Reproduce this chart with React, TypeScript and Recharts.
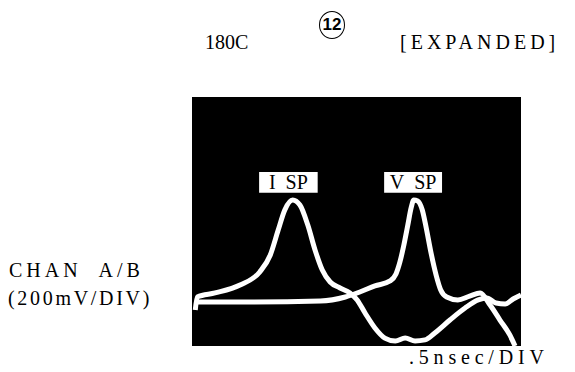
import React from "react";
import { LineChart, Line, XAxis, YAxis, ReferenceArea } from "recharts";

// scope trace, 0.5 ns/div horizontally, 200 mV/div vertically (10 x 8 divisions)
const iTime = [0.05, 0.08, 0.35, 0.73, 1.03, 1.19, 1.31, 1.41, 1.53, 1.64, 1.76, 1.87, 1.98, 2.1, 2.25, 2.4, 2.51, 2.63, 2.78, 2.93, 3.09, 3.24, 3.39, 3.54, 3.69, 3.92, 4.15, 4.35, 4.48, 4.62, 4.76, 4.88, 5.0];
const iVolt = [231, 315, 341, 392, 476, 585, 745, 874, 938, 906, 777, 617, 488, 411, 373, 341, 296, 212, 116, 51, 32, 51, 32, 39, 84, 167, 244, 296, 308, 276, 270, 302, 328];

const vTime = [0.05, 0.88, 1.95, 2.33, 2.55, 2.78, 3.01, 3.1, 3.16, 3.22, 3.28, 3.33, 3.37, 3.43, 3.5, 3.56, 3.63, 3.71, 3.78, 3.87, 4.04, 4.22, 4.38, 4.53, 4.68, 4.83, 4.91];
const vVolt = [283, 283, 289, 315, 347, 386, 418, 463, 540, 649, 777, 887, 938, 932, 874, 758, 604, 456, 360, 315, 296, 321, 341, 263, 167, 71, 0];

const iSpData = iTime.map((t, i) => ({ t, mv: iVolt[i] }));
const vSpData = vTime.map((t, i) => ({ t, mv: vVolt[i] }));

const serif = "'Liberation Serif', 'DejaVu Serif', serif";

export default function App() {
  return (
    <div style={{ position: "fixed", left: 0, top: 0, width: 575, height: 372, background: "#fff", fontFamily: serif }}>
      <LineChart width={575} height={372} margin={{ top: 97, right: 54, bottom: 26, left: 192 }}>
        <XAxis type="number" dataKey="t" domain={[0, 5]} hide />
        <YAxis type="number" domain={[0, 1600]} hide />
        <ReferenceArea x1={0} x2={5} y1={0} y2={1600} fill="#000" fillOpacity={1} stroke="none" />
        <Line data={iSpData} dataKey="mv" type="monotone" stroke="#fff" strokeWidth={5} dot={false} isAnimationActive={false} />
        <Line data={vSpData} dataKey="mv" type="monotone" stroke="#fff" strokeWidth={5} dot={false} isAnimationActive={false} />
        <ReferenceArea
          x1={1.02} x2={1.91} y1={985} y2={1118}
          fill="#fff" fillOpacity={1} stroke="none"
          label={{ value: "I\u00a0\u00a0SP", position: "center", fill: "#000", fontSize: 20, fontFamily: serif }}
        />
        <ReferenceArea
          x1={2.92} x2={3.8} y1={985} y2={1118}
          fill="#fff" fillOpacity={1} stroke="none"
          label={{ value: "V\u00a0\u00a0SP", position: "center", fill: "#000", fontSize: 20, fontFamily: serif }}
        />
      </LineChart>
      <div style={{ position: "absolute", left: 205, top: 31, fontSize: 20 }}>180C</div>
      <div style={{ position: "absolute", left: 319, top: 11, width: 24, height: 26, border: "1.5px solid #000", borderRadius: "50%", fontSize: 17, fontWeight: "bold", fontFamily: "'Liberation Sans Narrow', 'Liberation Sans', sans-serif", textAlign: "center", lineHeight: "26px" }}>12</div>
      <div style={{ position: "absolute", left: 400, top: 31, fontSize: 20, letterSpacing: 4 }}>[EXPANDED]</div>
      <div style={{ position: "absolute", left: 9, top: 259, fontSize: 20, letterSpacing: 4, whiteSpace: "pre" }}>CHAN  A/B</div>
      <div style={{ position: "absolute", left: 8, top: 287, fontSize: 20, letterSpacing: 2.7 }}>(200mV/DIV)</div>
      <div style={{ position: "absolute", left: 409, top: 346, fontSize: 20, letterSpacing: 4.8 }}>.5nsec/DIV</div>
    </div>
  );
}
